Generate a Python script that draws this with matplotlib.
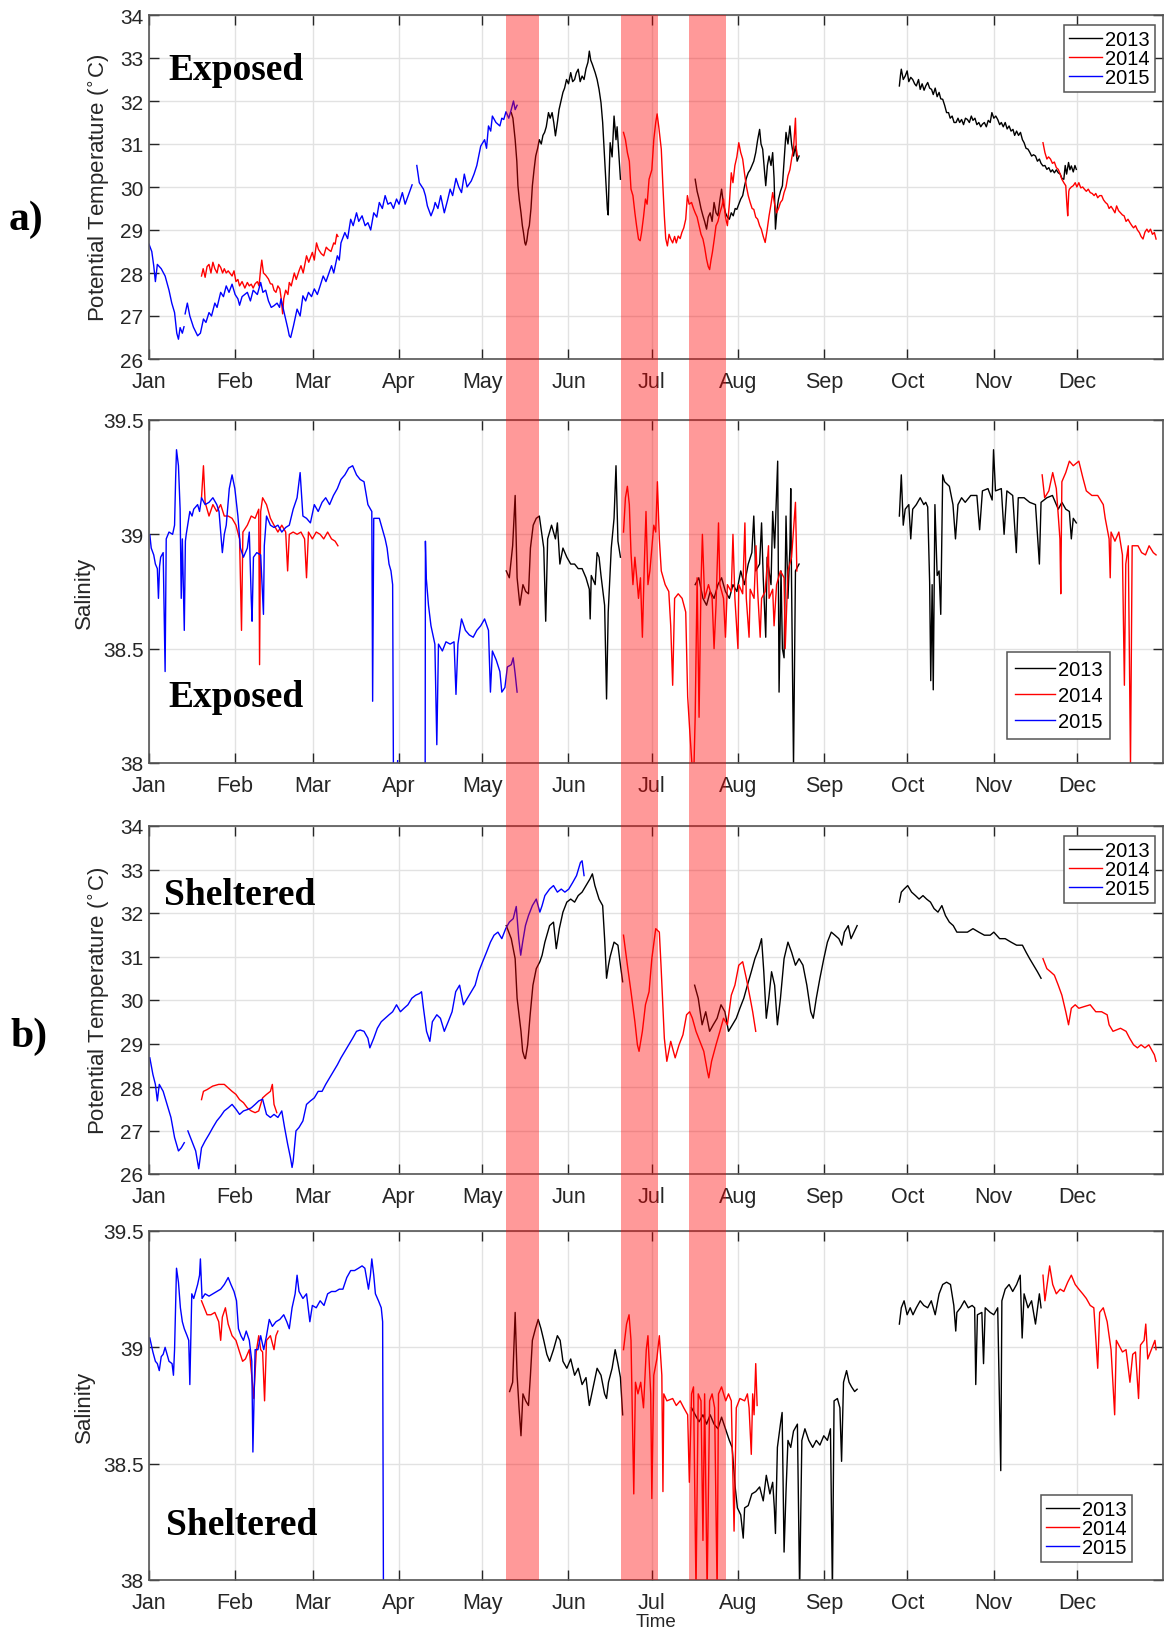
import numpy as np
import matplotlib
matplotlib.use('Agg')
import matplotlib.pyplot as plt
from matplotlib.lines import Line2D
from matplotlib.patches import Rectangle
from matplotlib.ticker import FormatStrFormatter
import matplotlib.transforms as mtransforms

plt.rcParams['font.family'] = ['Liberation Sans', 'DejaVu Sans']
nan = np.nan

# x axis: day of year (0 = 1 Jan)
month_days = [0, 31, 59, 90, 120, 151, 181, 212, 243, 273, 304, 334]
month_names = ['Jan', 'Feb', 'Mar', 'Apr', 'May', 'Jun', 'Jul', 'Aug', 'Sep', 'Oct', 'Nov', 'Dec']
years = ['2013', '2014', '2015']
year_colors = ['black', 'red', 'blue']

# shaded events (start day, end day)
events = [(128.5, 140.5), (169.9, 183.2), (194.4, 207.7)]

# ---------------- a) Exposed, potential temperature ----------------
temp_exp_2013 = [
    (130.4, 31.73), (131.0, 31.6), (131.8, 31.1), (132.4, 30.6), (132.8, 30.03), (133.3, 29.7), (133.9, 29.4),
    (134.4, 29.1), (134.8, 28.94), (135.3, 28.7), (135.6, 28.65), (136.0, 28.75), (136.5, 29.0), (136.9, 29.1),
    (137.5, 29.5), (138.0, 30.03), (138.6, 30.4), (139.2, 30.72), (139.9, 30.9), (140.5, 31.1), (141.2, 31.0),
    (141.8, 31.2), (142.4, 31.27), (143.0, 31.4), (143.8, 31.73), (144.4, 31.6), (145.1, 31.73), (145.7, 31.5),
    (146.3, 31.19), (147.0, 31.5), (147.6, 31.8), (148.3, 32.0), (149.0, 32.2), (149.6, 32.3), (150.3, 32.5),
    (151.0, 32.4), (151.8, 32.66), (152.5, 32.45), (153.2, 32.5), (153.8, 32.65), (154.5, 32.74), (155.2, 32.45),
    (155.9, 32.58), (156.6, 32.5), (157.3, 32.75), (158.0, 32.9), (158.5, 33.16), (159.0, 32.95), (159.6, 32.85),
    (160.6, 32.66), (161.3, 32.5), (162.0, 32.27), (162.7, 31.96), (163.3, 31.5), (164.0, 30.65), (164.5, 30.0),
    (165.0, 29.48), (165.3, 29.35), (165.6, 30.2), (166.0, 31.03), (166.7, 30.7), (167.4, 31.65), (168.1, 31.1),
    (168.5, 31.4), (169.0, 30.9), (169.7, 30.18), (nan, nan),
    (196.6, 30.18), (197.3, 29.9), (198.0, 29.72), (198.7, 29.5), (199.4, 29.33), (200.0, 29.2), (200.7, 29.02),
    (201.3, 29.3), (202.0, 29.4), (202.7, 29.2), (203.4, 29.64), (204.1, 29.4), (204.8, 29.33), (205.5, 29.7),
    (206.1, 29.95), (206.8, 29.6), (207.5, 29.4), (208.2, 29.3), (208.9, 29.25), (209.6, 29.4), (210.3, 29.33),
    (211.0, 29.5), (211.6, 29.48), (212.3, 29.6), (213.0, 29.72), (213.7, 29.8), (214.4, 30.03), (215.0, 30.2),
    (215.7, 30.33), (216.4, 30.4), (217.0, 30.49), (217.7, 30.6), (218.4, 30.8), (219.1, 31.1), (219.8, 31.34),
    (220.3, 31.0), (220.9, 30.88), (221.5, 30.4), (222.0, 30.03), (222.6, 30.5), (223.2, 30.72), (223.9, 30.5),
    (224.5, 30.8), (225.0, 30.2), (225.5, 29.02), (226.1, 29.5), (226.6, 29.72), (227.3, 29.9), (228.0, 30.03),
    (228.6, 30.6), (229.3, 31.27), (230.0, 31.0), (230.7, 31.42), (231.3, 31.0), (232.0, 30.72), (232.7, 30.95),
    (233.3, 30.6), (234.0, 30.72), (nan, nan),
    (270.1, 32.35), (270.5, 32.6), (270.8, 32.74), (271.5, 32.5), (272.2, 32.58), (272.9, 32.7), (273.5, 32.45),
    (274.2, 32.55), (274.9, 32.5), (275.6, 32.4), (276.2, 32.35), (277.0, 32.5), (277.6, 32.27), (278.3, 32.4),
    (279.0, 32.25), (279.6, 32.35), (280.3, 32.43), (281.0, 32.3), (281.7, 32.27), (282.3, 32.15), (283.0, 32.3),
    (283.7, 32.1), (284.4, 32.2), (285.0, 32.05), (285.7, 32.04), (286.4, 31.9), (287.1, 31.73), (287.8, 31.73),
    (288.4, 31.6), (289.1, 31.65), (289.8, 31.5), (290.5, 31.5), (291.2, 31.6), (291.8, 31.5), (292.5, 31.57),
    (293.2, 31.45), (293.9, 31.6), (294.6, 31.57), (295.3, 31.5), (296.0, 31.65), (296.6, 31.55), (297.3, 31.6),
    (298.0, 31.45), (298.7, 31.5), (299.4, 31.4), (300.0, 31.46), (300.7, 31.5), (301.4, 31.4), (302.1, 31.55),
    (302.8, 31.5), (303.4, 31.73), (304.1, 31.6), (304.8, 31.65), (305.5, 31.57), (306.2, 31.45), (306.8, 31.5),
    (307.5, 31.4), (308.2, 31.5), (308.9, 31.35), (309.6, 31.42), (310.3, 31.3), (311.0, 31.34), (311.6, 31.2),
    (312.3, 31.3), (313.0, 31.2), (313.7, 31.27), (314.4, 31.1), (315.0, 31.03), (315.7, 30.9), (316.4, 30.88),
    (317.1, 30.8), (317.7, 30.72), (318.4, 30.75), (319.1, 30.72), (319.8, 30.6), (320.5, 30.65), (321.1, 30.55),
    (321.8, 30.49), (322.5, 30.5), (323.2, 30.41), (323.9, 30.45), (324.6, 30.35), (325.2, 30.4), (325.9, 30.33),
    (326.6, 30.4), (327.3, 30.33), (328.0, 30.3), (328.6, 30.2), (329.3, 30.18), (329.8, 30.5), (330.3, 30.3),
    (331.0, 30.57), (331.5, 30.4), (332.0, 30.49), (332.7, 30.35), (333.3, 30.5), (333.8, 30.41),
]
temp_exp_2014 = [
    (18.9, 27.93), (19.5, 28.1), (20.2, 27.9), (20.9, 28.15), (21.6, 28.2), (22.3, 28.0), (23.0, 28.25),
    (23.7, 28.1), (24.5, 28.0), (25.1, 28.2), (25.8, 28.13), (26.5, 28.0), (27.1, 28.1), (27.8, 28.0),
    (28.5, 28.05), (29.9, 27.93), (30.6, 28.05), (31.3, 27.8), (32.0, 27.85), (32.6, 27.7), (33.5, 27.8),
    (34.5, 27.65), (35.4, 27.78), (36.1, 27.7), (36.8, 27.74), (37.5, 27.65), (38.2, 27.75), (39.0, 27.8),
    (39.6, 27.7), (40.2, 28.1), (40.6, 28.3), (41.2, 28.0), (42.0, 27.95), (43.0, 27.86), (43.7, 27.75),
    (44.4, 27.74), (45.0, 27.6), (45.7, 27.55), (46.4, 27.7), (47.1, 27.63), (47.6, 27.4), (48.1, 27.05),
    (48.5, 27.4), (49.2, 27.6), (50.0, 27.5), (50.5, 27.78), (51.2, 27.7), (52.3, 28.0), (53.0, 27.85),
    (54.0, 28.05), (54.7, 28.17), (55.5, 28.0), (56.7, 28.4), (57.5, 28.25), (58.8, 28.48), (59.5, 28.3),
    (60.3, 28.7), (61.0, 28.55), (62.0, 28.45), (62.9, 28.4), (63.8, 28.6), (64.5, 28.55), (65.5, 28.5),
    (66.5, 28.7), (67.0, 28.67), (67.6, 28.9), (68.0, 28.85), (nan, nan),
    (170.8, 31.27), (171.5, 31.1), (172.2, 30.8), (172.9, 30.6), (173.5, 29.95), (174.2, 29.8), (174.9, 29.4),
    (175.5, 29.1), (176.2, 28.79), (176.8, 28.75), (177.3, 28.94), (178.0, 29.3), (178.7, 29.72), (179.3, 29.6),
    (180.0, 30.18), (181.0, 30.4), (181.7, 31.1), (182.4, 31.5), (182.9, 31.7), (183.5, 31.4), (184.4, 30.88),
    (185.0, 30.0), (185.5, 29.33), (186.0, 28.8), (186.6, 28.63), (187.2, 28.9), (187.8, 28.79), (188.5, 28.7),
    (189.2, 28.85), (189.8, 28.7), (190.5, 28.86), (191.2, 28.8), (191.8, 28.94), (192.5, 29.05), (193.2, 29.25),
    (193.8, 29.8), (194.4, 29.6), (195.3, 29.64), (196.0, 29.5), (196.6, 29.4), (197.3, 29.3), (198.0, 29.1),
    (198.7, 28.9), (199.4, 28.79), (200.0, 28.6), (200.7, 28.32), (201.3, 28.15), (201.8, 28.08), (202.3, 28.3),
    (202.8, 28.48), (203.5, 28.8), (204.1, 29.1), (204.8, 29.2), (205.5, 29.4), (206.2, 29.55), (206.8, 29.72),
    (207.5, 29.3), (208.2, 29.1), (208.9, 29.6), (209.6, 30.33), (210.2, 30.1), (210.9, 30.5), (211.6, 30.7),
    (212.3, 31.03), (213.0, 30.8), (213.7, 30.65), (214.4, 30.3), (215.0, 30.03), (215.7, 29.8), (216.4, 29.64),
    (217.1, 29.5), (217.7, 29.48), (218.4, 29.3), (219.1, 29.25), (219.8, 29.1), (220.4, 29.02), (221.1, 28.85),
    (221.8, 28.71), (222.5, 29.0), (223.2, 29.33), (223.9, 29.6), (224.5, 29.87), (225.2, 29.6), (225.9, 29.4),
    (226.6, 29.5), (227.3, 29.64), (228.0, 29.7), (228.6, 29.87), (229.3, 30.0), (230.0, 30.26), (230.7, 30.4),
    (231.3, 30.65), (232.0, 30.9), (232.7, 31.6), (233.0, 30.9), (233.4, 30.72), (nan, nan),
    (321.8, 31.03), (322.5, 30.8), (323.2, 30.65), (323.8, 30.7), (324.5, 30.65), (325.2, 30.55), (325.9, 30.58),
    (326.6, 30.45), (327.3, 30.41), (328.0, 30.3), (328.6, 30.18), (329.3, 30.1), (330.0, 30.03), (330.4, 29.6),
    (330.7, 29.33), (331.1, 29.9), (331.3, 29.95), (332.0, 30.0), (332.7, 30.03), (333.4, 30.1), (334.0, 30.0),
    (334.7, 30.1), (335.4, 29.98), (336.1, 30.0), (336.7, 29.95), (337.4, 29.9), (338.1, 29.95), (338.8, 29.87),
    (339.5, 29.85), (340.2, 29.8), (340.8, 29.85), (341.5, 29.75), (342.2, 29.8), (342.9, 29.8), (343.6, 29.7),
    (344.3, 29.64), (345.0, 29.6), (345.6, 29.5), (346.3, 29.55), (347.0, 29.48), (347.7, 29.4), (348.3, 29.56),
    (349.0, 29.45), (349.7, 29.4), (350.4, 29.35), (351.0, 29.33), (351.7, 29.2), (352.4, 29.25), (353.1, 29.17),
    (353.8, 29.1), (354.4, 29.05), (355.1, 29.1), (355.8, 29.0), (356.5, 28.94), (357.1, 28.85), (357.8, 28.79),
    (358.5, 28.95), (359.2, 29.02), (359.8, 28.95), (360.5, 29.02), (361.2, 28.9), (361.9, 28.94), (362.5, 28.79),
]
temp_exp_2015 = [
    (0.0, 28.67), (1.0, 28.5), (1.7, 28.17), (2.3, 27.8), (3.0, 28.2), (4.4, 28.1), (5.8, 27.93), (7.2, 27.6),
    (8.2, 27.3), (9.2, 27.08), (10.0, 26.6), (10.6, 26.46), (11.2, 26.73), (12.0, 26.6), (12.6, 26.75), (nan, nan),
    (13.0, 27.05), (13.8, 27.3), (14.7, 27.0), (16.0, 26.74), (17.5, 26.54), (18.5, 26.6), (19.6, 26.93),
    (20.5, 26.85), (21.6, 27.08), (22.5, 27.0), (23.7, 27.3), (24.5, 27.2), (25.8, 27.55), (26.8, 27.45),
    (27.8, 27.7), (28.8, 27.55), (29.9, 27.74), (31.0, 27.5), (32.0, 27.4), (32.6, 27.25), (33.5, 27.45),
    (35.4, 27.55), (36.5, 27.35), (37.5, 27.6), (39.0, 27.5), (40.2, 27.78), (41.0, 27.55), (42.0, 27.6),
    (43.0, 27.35), (44.0, 27.2), (45.0, 27.24), (46.1, 27.3), (47.0, 27.2), (47.5, 27.4), (49.2, 26.93),
    (50.0, 26.7), (50.5, 26.54), (51.0, 26.5), (52.0, 26.77), (53.3, 27.16), (54.4, 27.0), (55.4, 27.47),
    (56.4, 27.35), (57.4, 27.55), (58.5, 27.45), (59.5, 27.63), (60.6, 27.5), (61.6, 27.7), (62.7, 27.93),
    (63.7, 27.8), (65.7, 28.17), (66.5, 28.0), (67.8, 28.4), (68.5, 28.3), (69.1, 28.7), (70.5, 28.94),
    (71.5, 28.8), (72.6, 29.25), (73.5, 29.1), (74.7, 29.4), (75.5, 29.2), (76.7, 29.33), (77.8, 29.1),
    (78.8, 29.17), (79.8, 29.0), (80.9, 29.4), (82.0, 29.3), (82.9, 29.64), (84.0, 29.5), (85.0, 29.8),
    (86.0, 29.6), (87.0, 29.64), (88.0, 29.5), (89.1, 29.72), (90.0, 29.6), (91.2, 29.87), (92.2, 29.6),
    (93.3, 29.8), (94.7, 30.05), (nan, nan), (96.4, 30.5), (97.3, 30.1), (98.8, 29.95), (99.5, 29.8),
    (100.2, 29.56), (101.5, 29.33), (102.5, 29.5), (103.0, 29.64), (104.0, 29.5), (105.0, 29.8), (106.3, 29.4),
    (107.5, 29.7), (108.4, 29.95), (109.3, 29.8), (110.5, 30.2), (111.5, 30.0), (112.5, 29.87), (113.5, 30.3),
    (114.5, 30.0), (116.0, 30.14), (117.0, 30.3), (118.0, 30.5), (119.4, 30.95), (120.8, 31.1), (121.5, 30.9),
    (122.2, 31.42), (123.0, 31.3), (123.6, 31.65), (124.9, 31.5), (126.3, 31.42), (127.0, 31.6), (127.7, 31.57),
    (128.5, 31.75), (129.5, 31.6), (130.4, 31.8), (131.2, 32.0), (131.8, 31.8), (132.5, 31.9),
]

# ---------------- a) Exposed, salinity ----------------
sal_exp_2013 = [
    (128.6, 38.84), (129.7, 38.81), (130.9, 38.95), (131.8, 39.17), (132.5, 38.81), (133.5, 38.69), (134.6, 38.78),
    (135.6, 38.75), (136.6, 38.74), (137.3, 38.94), (138.3, 39.04), (139.4, 39.07), (140.5, 39.08), (141.3, 39.01),
    (142.1, 38.94), (142.8, 38.62), (143.5, 38.98), (144.9, 39.04), (146.3, 38.98), (147.0, 39.05), (147.9, 38.87),
    (149.0, 38.94), (150.4, 38.9), (151.8, 38.87), (153.2, 38.87), (154.5, 38.85), (155.9, 38.85), (157.3, 38.81),
    (158.5, 38.76), (158.8, 38.63), (159.2, 38.82), (160.6, 38.78), (161.3, 38.92), (162.0, 38.9), (162.7, 38.82),
    (164.0, 38.69), (164.7, 38.28), (165.3, 38.66), (166.4, 38.94), (167.4, 39.07), (168.1, 39.3), (168.8, 38.97),
    (169.7, 38.9), (nan, nan),
    (196.6, 38.78), (197.9, 38.81), (199.4, 38.72), (200.7, 38.69), (202.0, 38.75), (203.4, 38.72), (204.8, 38.78),
    (206.1, 38.81), (207.5, 38.75), (208.9, 38.72), (210.2, 38.78), (211.6, 38.75), (213.0, 38.84), (214.3, 38.78),
    (215.7, 38.87), (217.0, 38.92), (217.7, 39.08), (218.4, 38.84), (219.8, 38.87), (220.5, 39.05), (221.1, 38.81),
    (222.0, 38.55), (222.5, 38.9), (223.9, 38.78), (224.5, 39.1), (225.2, 38.94), (226.3, 39.32), (226.8, 38.31),
    (227.5, 38.84), (228.0, 38.5), (228.6, 38.46), (229.3, 39.08), (230.0, 38.72), (230.7, 38.94), (231.0, 39.2),
    (231.3, 38.78), (232.0, 37.99), (232.7, 38.84), (234.0, 38.87), (nan, nan),
    (270.1, 39.08), (270.8, 39.26), (271.5, 39.04), (272.2, 39.11), (273.5, 39.13), (274.2, 38.98), (274.9, 39.11),
    (276.2, 39.13), (277.6, 39.16), (278.9, 39.13), (279.6, 39.14), (280.3, 39.12), (281.0, 38.79), (281.4, 38.36),
    (281.9, 38.78), (282.3, 38.32), (282.9, 39.13), (283.7, 38.82), (284.4, 38.84), (285.0, 38.65), (285.7, 39.26),
    (286.4, 39.23), (288.1, 39.21), (289.4, 39.13), (290.3, 38.98), (291.2, 39.13), (292.5, 39.16), (293.8, 39.14),
    (295.8, 39.17), (298.0, 39.17), (299.0, 39.02), (300.0, 39.19), (302.0, 39.2), (303.5, 39.15), (304.0, 39.37),
    (304.7, 39.19), (306.8, 39.2), (307.8, 39.0), (308.8, 39.19), (310.9, 39.17), (312.2, 38.92), (312.9, 39.16),
    (315.0, 39.16), (317.0, 39.14), (319.1, 39.13), (320.5, 38.87), (321.1, 39.14), (323.2, 39.16), (325.2, 39.17),
    (327.3, 39.11), (328.6, 39.14), (330.0, 39.11), (331.3, 39.1), (332.0, 38.98), (332.7, 39.07), (333.8, 39.05),
]
sal_exp_2014 = [
    (18.9, 39.16), (19.6, 39.3), (20.2, 39.14), (21.6, 39.08), (23.0, 39.13), (24.4, 39.1), (25.8, 39.13),
    (27.1, 39.08), (28.5, 39.08), (29.9, 39.07), (31.3, 39.04), (32.6, 38.98), (33.3, 38.58), (33.8, 39.01),
    (35.4, 39.04), (36.8, 39.08), (38.2, 39.07), (39.5, 39.11), (39.8, 38.43), (40.2, 39.1), (40.9, 39.16),
    (42.3, 39.13), (43.7, 39.07), (45.0, 39.04), (46.4, 39.01), (47.8, 39.04), (49.2, 39.01), (49.9, 38.84),
    (50.5, 39.0), (51.9, 39.01), (53.3, 39.0), (54.7, 39.01), (56.0, 38.98), (56.7, 38.81), (57.4, 39.01),
    (58.8, 38.98), (60.2, 39.01), (61.6, 39.0), (62.9, 38.98), (64.3, 39.01), (65.7, 38.98), (67.0, 38.97),
    (68.0, 38.95), (nan, nan),
    (170.8, 39.01), (171.5, 39.16), (172.2, 39.21), (172.9, 39.13), (173.5, 38.92), (174.2, 38.78), (174.9, 38.9),
    (175.5, 38.82), (176.2, 38.72), (176.9, 38.81), (177.6, 38.55), (178.3, 38.87), (178.9, 39.1), (179.6, 38.78),
    (180.3, 38.84), (181.0, 38.94), (181.7, 39.04), (182.4, 39.01), (183.0, 39.23), (183.7, 38.98), (184.4, 38.84),
    (185.8, 38.78), (187.1, 38.75), (187.8, 38.6), (188.5, 38.34), (189.2, 38.72), (190.5, 38.74), (191.9, 38.72),
    (193.2, 38.66), (193.9, 38.29), (194.6, 38.15), (195.3, 38.02), (196.0, 37.9), (196.6, 38.2), (197.3, 38.81),
    (198.0, 38.2), (198.7, 38.78), (199.2, 39.0), (200.0, 38.72), (201.4, 38.78), (202.7, 38.72), (203.4, 38.5),
    (204.1, 38.69), (205.0, 39.05), (205.5, 38.78), (206.8, 38.72), (207.5, 38.55), (208.2, 38.78), (209.6, 38.75),
    (210.2, 39.0), (210.9, 38.72), (212.0, 38.5), (212.3, 38.78), (213.7, 38.74), (214.5, 39.05), (215.0, 38.72),
    (216.0, 38.55), (216.4, 38.76), (217.8, 38.72), (218.5, 38.95), (219.1, 38.75), (220.0, 38.55), (220.5, 38.72),
    (221.8, 38.75), (223.0, 38.95), (223.2, 38.72), (224.5, 38.76), (225.0, 38.6), (225.9, 38.78), (227.3, 38.84),
    (228.6, 38.81), (229.0, 38.5), (230.0, 38.84), (231.3, 38.9), (232.7, 39.14), (233.2, 38.84), (nan, nan),
    (321.5, 39.26), (322.4, 39.16), (323.9, 39.19), (325.3, 39.27), (326.6, 39.2), (327.9, 38.98), (328.2, 38.74),
    (328.6, 39.23), (330.0, 39.27), (331.3, 39.32), (332.7, 39.3), (334.7, 39.32), (336.1, 39.25), (337.4, 39.19),
    (339.4, 39.17), (341.5, 39.17), (343.5, 39.13), (344.2, 39.07), (345.6, 38.98), (346.0, 38.81), (346.3, 39.01),
    (347.7, 38.97), (349.1, 39.01), (350.4, 38.91), (351.1, 38.34), (351.6, 38.87), (352.5, 38.95), (353.3, 37.99),
    (353.9, 38.95), (356.0, 38.95), (357.3, 38.92), (358.7, 38.91), (360.0, 38.95), (361.5, 38.92), (362.5, 38.91),
]
sal_exp_2015 = [
    (0.3, 38.997), (0.8, 38.94), (1.7, 38.91), (2.3, 38.87), (3.0, 38.85), (3.4, 38.72), (3.8, 38.86), (4.2, 38.9),
    (5.1, 38.92), (5.8, 38.4), (6.2, 38.98), (7.2, 39.01), (8.5, 39.0), (9.2, 39.04), (9.6, 39.25), (9.9, 39.37),
    (10.6, 39.3), (11.2, 39.11), (11.6, 38.72), (12.0, 38.98), (12.7, 38.58), (13.1, 38.97), (13.4, 39.0),
    (14.7, 39.1), (15.5, 39.08), (16.1, 39.11), (17.5, 39.13), (18.2, 39.1), (18.9, 39.16), (20.2, 39.13),
    (21.6, 39.14), (23.0, 39.16), (24.4, 39.13), (25.2, 39.1), (25.8, 39.01), (26.4, 38.92), (27.1, 39.0),
    (27.8, 39.04), (28.9, 39.2), (29.9, 39.26), (30.9, 39.2), (32.0, 39.08), (32.9, 38.94), (34.0, 38.9),
    (35.4, 38.94), (36.1, 39.01), (36.8, 38.72), (37.1, 38.62), (37.6, 38.9), (38.8, 38.92), (40.2, 38.91),
    (41.2, 38.65), (41.5, 38.95), (42.3, 39.08), (43.7, 39.04), (45.0, 39.03), (46.4, 39.04), (47.8, 39.01),
    (49.2, 39.03), (50.5, 39.04), (51.9, 39.11), (53.3, 39.16), (54.4, 39.27), (55.4, 39.08), (56.7, 39.07),
    (58.1, 39.05), (59.5, 39.13), (60.9, 39.1), (62.3, 39.14), (63.6, 39.16), (65.0, 39.13), (66.4, 39.17),
    (67.8, 39.2), (69.1, 39.24), (70.5, 39.26), (71.9, 39.29), (73.3, 39.3), (74.7, 39.26), (76.0, 39.24),
    (77.4, 39.23), (78.8, 39.13), (80.2, 39.1), (80.5, 38.27), (80.9, 39.07), (82.9, 39.07), (84.3, 39.01),
    (85.0, 38.98), (85.7, 38.94), (86.4, 38.87), (87.1, 38.84), (87.7, 38.78), (88.0, 37.9), (89.0, 37.9),
    (89.5, 38.01), (nan, nan),
    (99.4, 37.9), (99.5, 38.97), (99.8, 38.81), (100.6, 38.69), (101.5, 38.6), (102.9, 38.52), (103.6, 38.08),
    (104.2, 38.52), (105.6, 38.49), (106.9, 38.53), (108.4, 38.52), (109.8, 38.53), (110.5, 38.3), (111.2, 38.52),
    (112.5, 38.63), (113.9, 38.58), (115.3, 38.56), (116.7, 38.55), (118.0, 38.58), (119.4, 38.6), (120.8, 38.63),
    (122.2, 38.58), (122.9, 38.31), (123.6, 38.49), (125.0, 38.45), (126.3, 38.4), (127.0, 38.31), (128.1, 38.33),
    (129.0, 38.42), (130.4, 38.43), (131.1, 38.46), (131.8, 38.39), (132.5, 38.31),
]

# ---------------- b) Sheltered, potential temperature ----------------
temp_shel_2013 = [
    (128.6, 31.71), (130.4, 31.41), (131.8, 30.95), (132.5, 30.04), (133.9, 29.28), (134.5, 28.82), (135.2, 28.67),
    (135.5, 28.65), (136.3, 28.97), (137.2, 29.66), (138.2, 30.34), (139.4, 30.72), (140.7, 30.88), (141.5, 31.03),
    (142.5, 31.33), (144.2, 31.71), (145.6, 31.79), (146.6, 31.18), (147.7, 31.64), (149.0, 32.02), (150.4, 32.25),
    (151.8, 32.32), (153.2, 32.25), (154.5, 32.4), (155.9, 32.48), (157.3, 32.63), (158.7, 32.78), (159.6, 32.9),
    (160.5, 32.63), (162.0, 32.32), (163.3, 32.17), (164.0, 31.41), (164.7, 30.5), (165.4, 30.8), (166.0, 31.0),
    (167.4, 31.33), (168.8, 31.26), (169.7, 30.8), (170.5, 30.42), (nan, nan),
    (196.4, 30.34), (197.7, 30.04), (199.1, 29.43), (200.4, 29.73), (201.8, 29.28), (203.1, 29.43), (204.5, 29.58),
    (205.9, 29.89), (207.3, 29.73), (208.6, 29.28), (210.0, 29.43), (211.4, 29.58), (212.7, 29.81), (214.1, 30.04),
    (215.4, 30.34), (216.8, 30.65), (218.1, 30.95), (219.5, 31.18), (220.5, 31.41), (221.3, 30.65), (222.2, 29.58),
    (223.1, 30.04), (224.1, 30.65), (225.2, 30.34), (226.2, 29.43), (227.3, 30.04), (228.6, 30.95), (230.0, 31.33),
    (231.3, 31.1), (232.7, 30.8), (234.0, 30.95), (235.4, 30.8), (236.8, 30.34), (238.2, 29.73), (239.1, 29.58),
    (240.2, 30.04), (241.5, 30.5), (242.9, 30.95), (244.2, 31.33), (245.6, 31.56), (246.9, 31.49), (248.3, 31.41),
    (249.4, 31.26), (250.3, 31.56), (251.7, 31.71), (252.7, 31.41), (253.8, 31.56), (254.9, 31.71), (nan, nan),
    (270.1, 32.25), (270.8, 32.48), (271.8, 32.55), (273.1, 32.63), (274.5, 32.48), (275.9, 32.4), (277.2, 32.32),
    (278.6, 32.4), (279.9, 32.32), (281.3, 32.25), (282.6, 32.1), (284.0, 32.02), (285.4, 32.17), (286.7, 31.94),
    (288.1, 31.79), (289.5, 31.71), (290.8, 31.56), (292.6, 31.56), (294.6, 31.56), (296.6, 31.64), (298.7, 31.56),
    (300.7, 31.49), (302.8, 31.49), (304.1, 31.56), (306.2, 31.41), (308.2, 31.41), (310.3, 31.33), (312.3, 31.26),
    (314.4, 31.26), (315.7, 31.1), (317.0, 30.95), (318.4, 30.8), (319.8, 30.65), (321.1, 30.5),
]
temp_shel_2014 = [
    (18.9, 27.71), (19.6, 27.9), (20.9, 27.94), (22.9, 28.02), (25.1, 28.06), (27.1, 28.06), (28.5, 27.98),
    (29.9, 27.9), (31.3, 27.83), (32.6, 27.71), (34.0, 27.64), (35.4, 27.52), (36.8, 27.45), (38.2, 27.41),
    (39.5, 27.45), (40.9, 27.75), (42.3, 27.83), (43.7, 27.9), (44.4, 28.06), (45.0, 27.6), (46.0, 27.41), (nan, nan),
    (170.8, 31.49), (172.2, 30.8), (173.5, 30.19), (174.9, 29.5), (175.8, 28.97), (176.4, 28.82), (177.6, 29.28),
    (178.7, 29.89), (180.0, 30.19), (181.0, 30.95), (182.4, 31.64), (183.7, 31.56), (184.3, 30.8), (185.5, 29.12),
    (186.4, 28.59), (187.8, 29.05), (189.4, 28.67), (190.8, 28.97), (192.2, 29.2), (193.5, 29.66), (194.6, 29.73),
    (195.6, 29.58), (196.9, 29.28), (198.3, 29.05), (199.7, 28.82), (201.0, 28.36), (201.5, 28.21), (202.5, 28.59),
    (204.1, 28.97), (205.5, 29.28), (206.8, 29.58), (208.2, 29.43), (209.6, 30.11), (210.9, 30.34), (212.3, 30.8),
    (213.7, 30.88), (215.0, 30.5), (216.4, 30.04), (217.3, 29.73), (218.4, 29.28), (nan, nan),
    (321.8, 30.95), (323.2, 30.72), (324.5, 30.65), (325.9, 30.57), (327.3, 30.34), (328.6, 30.11), (330.0, 29.73),
    (331.0, 29.43), (332.0, 29.81), (333.4, 29.89), (334.7, 29.81), (336.7, 29.85), (338.8, 29.89), (340.8, 29.73),
    (342.9, 29.73), (344.9, 29.66), (345.6, 29.43), (347.0, 29.28), (349.7, 29.35), (351.7, 29.28), (353.0, 29.12),
    (354.4, 28.97), (355.8, 28.9), (357.1, 28.97), (358.5, 28.9), (359.9, 28.97), (361.2, 28.82), (361.9, 28.74),
    (362.5, 28.59),
]
temp_shel_2015 = [
    (0.3, 28.67), (1.4, 28.29), (2.3, 28.06), (3.0, 27.68), (3.7, 28.06), (5.1, 27.9), (6.5, 27.6), (7.9, 27.3),
    (9.2, 26.84), (10.6, 26.53), (11.6, 26.6), (12.7, 26.72), (nan, nan), (14.0, 26.99), (15.4, 26.76),
    (16.8, 26.53), (17.9, 26.12), (18.9, 26.6), (20.2, 26.76), (21.6, 26.91), (23.0, 27.07), (24.4, 27.22),
    (25.8, 27.33), (27.1, 27.45), (28.5, 27.52), (29.9, 27.6), (31.3, 27.49), (32.6, 27.37), (34.0, 27.45),
    (35.4, 27.48), (36.8, 27.52), (38.2, 27.6), (39.5, 27.68), (40.9, 27.72), (42.3, 27.37), (43.7, 27.3),
    (45.0, 27.37), (46.4, 27.3), (47.8, 27.45), (48.8, 27.07), (49.9, 26.69), (50.9, 26.38), (51.5, 26.15),
    (51.9, 26.3), (52.9, 26.99), (54.0, 27.07), (55.4, 27.22), (56.7, 27.6), (58.1, 27.68), (59.5, 27.75),
    (60.9, 27.9), (62.3, 27.9), (63.6, 28.06), (65.0, 28.21), (66.4, 28.36), (67.8, 28.51), (69.1, 28.67),
    (70.5, 28.82), (71.9, 28.97), (73.3, 29.12), (74.7, 29.28), (76.0, 29.31), (77.4, 29.28), (78.8, 29.12),
    (79.5, 28.9), (80.9, 29.12), (82.2, 29.35), (83.6, 29.5), (85.0, 29.58), (86.4, 29.66), (87.7, 29.73),
    (89.1, 29.89), (90.5, 29.73), (91.8, 29.81), (93.2, 29.89), (94.6, 30.04), (96.0, 30.11), (97.4, 30.15),
    (98.1, 30.19), (98.8, 29.81), (99.9, 29.28), (101.1, 29.05), (102.0, 29.5), (103.6, 29.66), (104.9, 29.58),
    (106.3, 29.28), (107.7, 29.5), (109.1, 29.73), (110.4, 30.19), (111.8, 30.34), (113.2, 29.89), (114.6, 30.04),
    (116.0, 30.19), (117.4, 30.34), (118.7, 30.65), (120.1, 30.88), (121.5, 31.1), (122.9, 31.33), (124.2, 31.49),
    (125.6, 31.56), (127.0, 31.41), (128.4, 31.64), (129.7, 31.79), (131.1, 31.87), (132.2, 32.15), (133.1, 31.41),
    (133.8, 31.03), (134.5, 31.33), (135.5, 31.71), (136.6, 31.94), (138.0, 32.17), (139.4, 32.32), (140.7, 32.02),
    (141.5, 32.17), (142.5, 32.4), (144.2, 32.55), (145.6, 32.63), (147.0, 32.48), (148.4, 32.55), (149.7, 32.48),
    (151.1, 32.55), (152.5, 32.7), (153.9, 32.86), (155.3, 33.16), (155.9, 33.2), (156.6, 32.86),
]

# ---------------- b) Sheltered, salinity ----------------
sal_shel_2013 = [
    (129.8, 38.81), (130.9, 38.85), (131.8, 39.15), (132.5, 38.88), (133.2, 38.74), (133.9, 38.62), (134.6, 38.8),
    (135.6, 38.77), (136.6, 38.75), (137.3, 38.88), (138.0, 39.03), (139.1, 39.08), (140.1, 39.12), (141.1, 39.08),
    (142.1, 39.03), (143.2, 38.97), (144.2, 38.94), (145.6, 38.99), (147.0, 39.05), (148.0, 39.03), (149.0, 38.94),
    (150.4, 38.91), (151.8, 38.95), (153.2, 38.88), (154.5, 38.91), (155.9, 38.84), (157.3, 38.87), (158.5, 38.75),
    (159.9, 38.83), (161.3, 38.91), (162.7, 38.88), (164.0, 38.8), (164.7, 38.78), (165.4, 38.85), (166.7, 38.91),
    (167.8, 38.99), (168.8, 38.93), (169.7, 38.87), (170.5, 38.71), (nan, nan),
    (195.3, 38.74), (196.6, 38.71), (198.0, 38.68), (199.4, 38.71), (200.7, 38.67), (202.0, 38.71), (203.4, 38.67),
    (204.8, 38.65), (206.1, 38.7), (207.5, 38.65), (208.9, 38.6), (209.9, 38.57), (211.0, 38.4), (211.8, 38.31),
    (213.0, 38.28), (213.9, 38.18), (214.4, 38.31), (215.7, 38.32), (217.0, 38.37), (218.4, 38.38), (219.8, 38.4),
    (221.1, 38.34), (222.2, 38.45), (223.5, 38.37), (224.5, 38.42), (225.1, 38.31), (225.5, 38.2), (226.2, 38.57),
    (227.4, 38.68), (227.9, 38.72), (228.6, 38.12), (229.3, 38.38), (230.0, 38.6), (231.0, 38.57), (232.0, 38.64),
    (233.4, 38.67), (234.2, 37.95), (235.0, 38.6), (236.1, 38.65), (237.5, 38.6), (238.9, 38.57), (240.2, 38.6),
    (241.5, 38.58), (242.9, 38.62), (244.2, 38.6), (245.3, 38.65), (246.0, 37.95), (246.6, 38.77), (247.8, 38.78),
    (248.7, 38.74), (249.3, 38.51), (250.0, 38.85), (251.1, 38.9), (252.0, 38.85), (252.9, 38.83), (254.0, 38.81),
    (254.9, 38.82), (nan, nan),
    (270.1, 39.1), (270.8, 39.17), (271.8, 39.2), (272.9, 39.14), (274.0, 39.17), (275.0, 39.14), (276.2, 39.17),
    (277.6, 39.2), (278.9, 39.18), (280.3, 39.17), (281.6, 39.2), (283.0, 39.14), (284.4, 39.23), (285.7, 39.27),
    (287.1, 39.28), (288.5, 39.27), (289.7, 39.18), (290.4, 39.07), (290.8, 39.15), (292.1, 39.17), (293.5, 39.2),
    (294.9, 39.17), (296.3, 39.18), (297.2, 39.17), (297.6, 38.84), (298.2, 39.14), (299.8, 39.15), (300.4, 38.93),
    (301.0, 39.17), (302.8, 39.15), (304.1, 39.14), (305.5, 39.17), (306.6, 38.47), (307.0, 39.2), (308.2, 39.25),
    (309.6, 39.27), (310.9, 39.24), (312.3, 39.27), (313.6, 39.31), (314.3, 39.04), (315.0, 39.23), (316.4, 39.17),
    (317.7, 39.2), (319.1, 39.1), (320.5, 39.23), (321.1, 39.17),
]
sal_shel_2014 = [
    (18.9, 39.2), (19.9, 39.17), (20.9, 39.14), (22.3, 39.14), (23.7, 39.15), (25.1, 39.11), (25.8, 39.03),
    (26.4, 39.13), (27.5, 39.17), (28.5, 39.1), (29.9, 39.05), (31.3, 39.03), (32.6, 38.98), (33.7, 38.94),
    (34.7, 38.95), (36.1, 38.99), (37.2, 38.85), (37.7, 38.78), (38.6, 38.98), (39.5, 39.05), (40.2, 38.99),
    (40.9, 38.98), (41.6, 38.77), (42.3, 39.03), (43.7, 39.05), (45.0, 38.99), (45.7, 39.05), (46.4, 39.07), (nan, nan),
    (170.8, 38.99), (171.9, 39.1), (172.8, 39.14), (173.5, 39.03), (174.5, 38.37), (175.1, 38.85), (176.0, 38.8),
    (177.0, 38.85), (178.0, 38.74), (179.0, 38.99), (179.6, 39.05), (180.6, 38.8), (181.0, 38.35), (181.7, 38.88),
    (182.8, 38.95), (183.7, 39.05), (184.6, 38.88), (185.0, 38.38), (185.3, 38.8), (186.4, 38.77), (188.5, 38.78),
    (189.8, 38.75), (191.2, 38.77), (192.5, 38.74), (193.9, 38.71), (194.5, 38.42), (195.3, 38.8), (196.0, 38.83),
    (196.9, 37.95), (197.7, 38.8), (198.7, 38.77), (199.4, 38.17), (200.0, 38.8), (200.9, 37.95), (201.8, 38.77),
    (202.7, 38.8), (203.6, 38.74), (204.5, 37.95), (205.0, 38.8), (206.1, 38.83), (207.6, 38.77), (208.6, 38.8),
    (209.6, 38.77), (210.6, 38.21), (211.4, 38.74), (212.7, 38.78), (214.4, 38.77), (215.4, 38.8), (216.0, 38.74),
    (216.8, 38.54), (217.3, 38.8), (217.8, 38.71), (218.4, 38.93), (218.9, 38.75), (nan, nan),
    (321.8, 39.31), (322.5, 39.2), (324.2, 39.35), (325.3, 39.27), (326.6, 39.23), (328.0, 39.25), (329.3, 39.24),
    (330.7, 39.28), (332.0, 39.31), (333.4, 39.27), (334.7, 39.25), (336.1, 39.23), (337.4, 39.21), (338.8, 39.18),
    (340.1, 39.17), (341.5, 38.91), (342.2, 39.15), (343.5, 39.17), (344.9, 39.11), (346.3, 38.99), (347.6, 38.71),
    (348.2, 39.03), (350.4, 38.98), (351.7, 38.99), (353.1, 38.85), (354.1, 38.97), (355.1, 38.98), (356.2, 38.78),
    (356.9, 39.01), (358.2, 39.03), (358.8, 39.1), (359.5, 38.95), (360.8, 38.99), (362.1, 39.03), (362.5, 38.99),
]
sal_shel_2015 = [
    (0.3, 39.04), (1.4, 38.98), (2.3, 38.94), (3.0, 38.93), (3.7, 38.9), (4.4, 38.96), (5.1, 38.97), (5.8, 39.0),
    (6.5, 38.97), (7.2, 38.94), (8.3, 38.93), (8.8, 38.88), (9.2, 38.99), (9.9, 39.34), (10.6, 39.28),
    (11.3, 39.17), (12.0, 39.11), (12.7, 39.08), (13.7, 39.05), (14.3, 39.03), (14.7, 38.84), (15.4, 39.23),
    (16.1, 39.21), (16.8, 39.24), (17.5, 39.27), (18.2, 39.31), (18.5, 39.38), (19.1, 39.21), (20.2, 39.23),
    (21.6, 39.22), (23.0, 39.23), (24.4, 39.24), (25.8, 39.25), (27.1, 39.27), (28.5, 39.3), (29.5, 39.27),
    (30.6, 39.24), (31.5, 39.2), (32.2, 39.08), (33.1, 39.05), (34.0, 39.03), (35.0, 39.07), (36.1, 39.03),
    (37.0, 38.94), (37.4, 38.55), (38.2, 38.99), (39.2, 38.99), (40.2, 39.05), (41.3, 38.99), (42.3, 39.05),
    (43.3, 39.12), (44.4, 39.09), (45.7, 39.11), (47.1, 39.12), (48.5, 39.14), (49.6, 39.11), (50.5, 39.08),
    (51.5, 39.17), (52.6, 39.23), (53.3, 39.31), (54.0, 39.24), (55.4, 39.21), (56.7, 39.23), (57.9, 39.11),
    (58.8, 39.18), (60.2, 39.17), (61.6, 39.2), (63.0, 39.18), (64.3, 39.23), (65.7, 39.24), (67.1, 39.24),
    (68.5, 39.25), (69.8, 39.25), (71.2, 39.3), (72.6, 39.33), (74.0, 39.33), (75.4, 39.34), (76.7, 39.35),
    (77.7, 39.34), (79.0, 39.25), (79.7, 39.31), (80.2, 39.38), (80.9, 39.31), (81.5, 39.23), (82.6, 39.2),
    (83.6, 39.17), (84.1, 39.11), (84.4, 37.9),
]

W, H = 1168, 1631
fig = plt.figure(figsize=(W / 100, H / 100), dpi=100)

AX_L, AX_R = 149, 1163


def add_panel(top, bottom):
    return fig.add_axes([AX_L / W, 1 - bottom / H, (AX_R - AX_L) / W, (bottom - top) / H])


def pairs(data):
    a = np.array(data, dtype=float)
    return a[:, 0], a[:, 1]


def style(ax, ylim, yticks):
    ax.set_xlim(0, 365)
    ax.set_ylim(*ylim)
    ax.set_xticks(month_days)
    ax.set_xticklabels(month_names)
    ax.set_yticks(yticks)
    ax.yaxis.set_major_formatter(FormatStrFormatter('%g'))
    ax.tick_params(direction='in', length=7, width=1, top=True, right=True,
                   labelcolor='#262626', color='#262626')
    ax.tick_params(axis='x', pad=8.5, labelsize=15.5)
    ax.tick_params(axis='y', pad=4, labelsize=15)
    ax.grid(True, color='#e2e2e2', lw=1)
    ax.set_axisbelow(True)
    for s in ax.spines.values():
        s.set_color('#555555')
        s.set_linewidth(1.2)


def add_legend(ax, loc, anchor, spacing, hlen, pad):
    handles = [Line2D([], [], color=c, lw=1) for c in year_colors]
    leg = ax.legend(handles, years, loc=loc, bbox_to_anchor=anchor, borderaxespad=0,
                    fontsize=14.5, labelspacing=spacing, handlelength=hlen, handletextpad=0.15,
                    borderpad=pad, fancybox=False, framealpha=1, edgecolor='#555555')
    leg.get_frame().set_linewidth(1.1)


panels = [
    (16, 360, [temp_exp_2013, temp_exp_2014, temp_exp_2015], (26, 34), range(26, 35)),
    (421, 764, [sal_exp_2013, sal_exp_2014, sal_exp_2015], (38, 39.5), [38, 38.5, 39, 39.5]),
    (827, 1175, [temp_shel_2013, temp_shel_2014, temp_shel_2015], (26, 34), range(26, 35)),
    (1232, 1581, [sal_shel_2013, sal_shel_2014, sal_shel_2015], (38, 39.5), [38, 38.5, 39, 39.5]),
]

axes = []
for top, bottom, series, ylim, yticks in panels:
    ax = add_panel(top, bottom)
    for data, col in zip(series, year_colors):
        x, y = pairs(data)
        ax.plot(x, y, color=col, lw=1.0)
    style(ax, ylim, yticks)
    axes.append(ax)

temp_label = r'Potential Temperature ($^{\circ}$C)'
for i, ax in enumerate(axes):
    if i in (0, 2):
        ax.set_ylabel(temp_label, fontsize=16, color='#262626')
        ax.yaxis.set_label_coords(-0.036, 0.5)
    else:
        ax.set_ylabel('Salinity', fontsize=16, color='#262626')
        ax.yaxis.set_label_coords(-0.053, 0.5)

axes[3].set_xlabel('Time', fontsize=13.5, color='#262626')
axes[3].xaxis.set_label_coords(0.5, -0.095)

add_legend(axes[0], 'upper right', (0.992, 0.97), 0.0, 1.65, 0.25)
add_legend(axes[1], 'lower right', (0.948, 0.07), 0.35, 1.95, 0.4)
add_legend(axes[2], 'upper right', (0.992, 0.971), 0.0, 1.65, 0.25)
add_legend(axes[3], 'lower right', (0.969, 0.052), 0.0, 1.65, 0.25)

# site names and panel letters
serif = ['Liberation Serif', 'DejaVu Serif']
site_texts = [('Exposed', 168, 80), ('Exposed', 168, 707), ('Sheltered', 164, 905), ('Sheltered', 166, 1535)]
for txt, xp, yp in site_texts:
    fig.text(xp / W, 1 - yp / H, txt, family=serif, fontweight='bold', fontsize=27, va='baseline')
fig.text(9 / W, 1 - 230 / H, 'a)', family=serif, fontweight='bold', fontsize=30, va='baseline')
fig.text(10 / W, 1 - 1047 / H, 'b)', family=serif, fontweight='bold', fontsize=30, va='baseline')

# shaded event bands spanning all four panels
trans = mtransforms.blended_transform_factory(axes[0].transData, fig.transFigure)
y_lo, y_hi = 1 - 1581 / H, 1 - 16 / H
for d0, d1 in events:
    fig.add_artist(Rectangle((d0, y_lo), d1 - d0, y_hi - y_lo, transform=trans,
                             facecolor='red', alpha=0.4, lw=0, zorder=10))

fig.savefig('out.png', dpi=100)
